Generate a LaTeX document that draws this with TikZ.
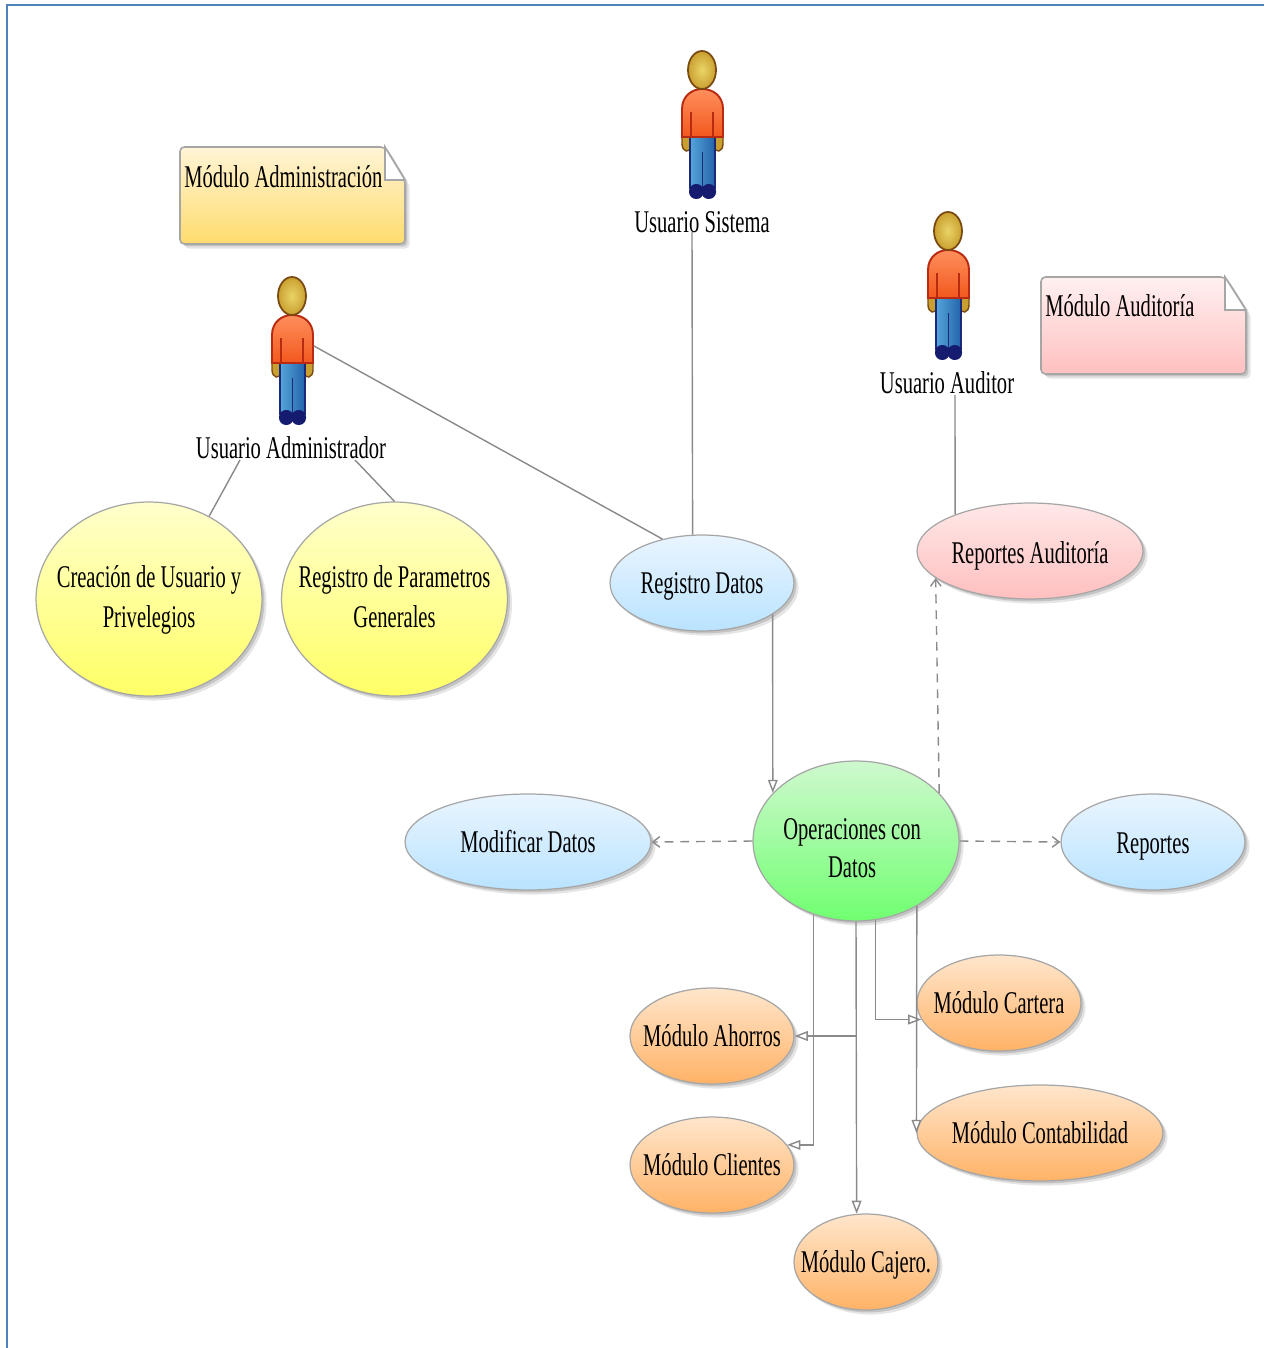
\documentclass[tikz,border=0pt]{standalone}
\usepackage{fontspec}
\setmainfont[FakeStretch=0.65]{Liberation Serif}
\usetikzlibrary{shapes.geometric,arrows.meta,shadows}
\definecolor{framecol}{HTML}{4F81BD}
\definecolor{linecol}{HTML}{8A8A8A}
\definecolor{edgecol}{HTML}{A6A6A6}
\definecolor{bluetop}{HTML}{EAF5FF}
\definecolor{bluebot}{HTML}{B9E3FF}
\definecolor{yeltop}{HTML}{FFFFCC}
\definecolor{yelbot}{HTML}{FFFF66}
\definecolor{pinktop}{HTML}{FFE8E8}
\definecolor{pinkbot}{HTML}{FFBFBF}
\definecolor{greentop}{HTML}{CFF8CF}
\definecolor{greenbot}{HTML}{70FF70}
\definecolor{ortop}{HTML}{FFE6CC}
\definecolor{orbot}{HTML}{FFB266}
\definecolor{notetopa}{HTML}{FFF4D6}
\definecolor{notebota}{HTML}{FFDC6E}
\definecolor{notetopb}{HTML}{FFF0F0}
\definecolor{notebotb}{HTML}{FFC0C0}
\definecolor{skinc}{HTML}{EAD468}
\definecolor{skino}{HTML}{C9A030}
\definecolor{skinl}{HTML}{7A4A12}
\definecolor{shirta}{HTML}{FF8F5C}
\definecolor{shirtb}{HTML}{F2581E}
\definecolor{shirtl}{HTML}{B82A12}
\definecolor{jeana}{HTML}{55A5DA}
\definecolor{jeanb}{HTML}{2463AA}
\definecolor{jeanl}{HTML}{1A2A78}
\definecolor{shoe}{HTML}{151C70}
\newcommand\ovaltext[2][-5.7pt]{\makebox[0pt]{\smash{\raisebox{#1}{\begin{tabular}{@{}c@{}}#2\end{tabular}}}}}
\tikzset{
  softshadow/.style={
    drop shadow={shadow xshift=1.4pt,shadow yshift=-1.4pt,opacity=.14,fill=black},
    drop shadow={shadow xshift=2.6pt,shadow yshift=-2.6pt,opacity=.10,fill=black}},
  txt/.style={font=\fontsize{18}{22.5}\selectfont,text=black,inner sep=0pt,align=center},
  oval/.style={txt,ellipse,draw=edgecol,line width=.7pt,softshadow,inner sep=0pt,anchor=center},
  yellowoval/.style={oval,top color=yeltop,bottom color=yelbot},
  blueoval/.style={oval,top color=bluetop,bottom color=bluebot},
  pinkoval/.style={oval,top color=pinktop,bottom color=pinkbot},
  greenoval/.style={oval,top color=greentop,bottom color=greenbot},
  orangeoval/.style={oval,top color=ortop,bottom color=orbot},
  link/.style={draw=linecol,line width=.8pt},
  flow/.style={link,-{Triangle[open,length=7.5pt,width=5.5pt]}},
  dashflow/.style={link,dash pattern=on 5pt off 4pt,-{Straight Barb[length=4pt,width=6pt]}},
  notebox/.style={draw=edgecol,line width=.9pt,rounded corners=2.5pt,softshadow},
  actor/.pic={
    \fill[draw=skinl,line width=.8pt,fill=skino]
      (-20,0) -- (-20,20) .. controls (-20,28) and (-12,30) .. (-11,22) -- (-11,0) -- cycle;
    \fill[draw=skinl,line width=.8pt,fill=skino]
      (21,0) -- (21,20) .. controls (21,28) and (13,30) .. (12,22) -- (12,0) -- cycle;
    \shade[draw=jeanl,line width=.9pt,left color=jeana,right color=jeanb]
      (-12,12) -- (-12,64) -- (13,64) -- (13,12) -- cycle;
    \draw[jeanl,line width=1.1pt] (.5,28) -- (.5,64);
    \fill[shoe,rounded corners=4pt] (-13,60) rectangle (1.5,75);
    \fill[shoe,rounded corners=4pt] (-.5,60) rectangle (14,75);
    \shade[draw=shirtl,line width=1.1pt,top color=shirta,bottom color=shirtb]
      (-20,13) -- (-20,-15) .. controls (-20,-28) and (-10,-35) .. (0,-35)
      .. controls (11,-35) and (21,-28) .. (21,-15) -- (21,13) -- cycle;
    \draw[shirtl,line width=.8pt] (-11,-12) -- (-11,13) (11,-12) -- (11,13);
    \shade[draw=skinl,line width=1pt,inner color=skinc,outer color=skino]
      (0,-54) ellipse [x radius=14,y radius=19];
  }
}
\begin{document}
\begin{tikzpicture}[x=.02cm,y=-.02cm]
\useasboundingbox (0,0) rectangle (1264,1348);
\fill[white] (0,0) rectangle (1264,1348);
\draw[framecol,line width=.8pt] (7,1348) -- (7,5) -- (1264,5);

% notes
\shade[notebox,top color=notetopa,bottom color=notebota]
  (180,147) -- (385,147) -- (405,180) -- (405,244) -- (180,244) -- cycle;
\fill[white,draw=edgecol,line width=.9pt] (385,147) -- (385,180) -- (405,180) -- cycle;
\node[txt,anchor=west] (noteadm) at (184,177) {Módulo Administración};

\shade[notebox,top color=notetopb,bottom color=notebotb]
  (1041,277) -- (1225,277) -- (1246,310) -- (1246,374) -- (1041,374) -- cycle;
\fill[white,draw=edgecol,line width=.9pt] (1225,277) -- (1225,310) -- (1246,310) -- cycle;
\node[txt,anchor=west] (noteaud) at (1045,306) {Módulo Auditoría};

% ovals
\node[yellowoval,minimum width=4.52cm,minimum height=3.88cm] (crea) at (149,599) {\ovaltext[-4.8pt]{Creación de Usuario y\\[.5pt]Privelegios}};
\node[yellowoval,minimum width=4.52cm,minimum height=3.88cm] (param) at (394.5,599) {\ovaltext[-4.8pt]{Registro de Parametros\\[.5pt]Generales}};
\node[blueoval,minimum width=3.68cm,minimum height=1.92cm] (regd) at (702,583) {\ovaltext{Registro Datos}};
\node[pinkoval,minimum width=4.52cm,minimum height=1.92cm] (repaud) at (1030,551) {\ovaltext[-6.8pt]{Reportes Auditoría}};
\node[greenoval,minimum width=4.12cm,minimum height=3.2cm] (oper) at (856,841) {\hspace{-4.5pt}\ovaltext[-9.6pt]{Operaciones con\\[-1pt]Datos}};
\node[blueoval,minimum width=4.92cm,minimum height=1.92cm] (modif) at (528,842) {\ovaltext{Modificar Datos}};
\node[blueoval,minimum width=3.68cm,minimum height=1.92cm] (repo) at (1153,842) {\ovaltext[-6.3pt]{Reportes}};
\node[orangeoval,minimum width=3.28cm,minimum height=1.92cm] (ahorros) at (712,1036) {\ovaltext{Módulo Ahorros}};
\node[orangeoval,minimum width=3.28cm,minimum height=1.92cm] (clientes) at (712,1165) {\ovaltext{Módulo Clientes}};
\node[orangeoval,minimum width=3.28cm,minimum height=1.92cm] (cartera) at (999,1003) {\ovaltext{Módulo Cartera}};
\node[orangeoval,minimum width=4.92cm,minimum height=1.92cm] (conta) at (1040,1133) {\ovaltext{Módulo Contabilidad}};
\node[orangeoval,minimum width=2.88cm,minimum height=1.92cm] (cajero) at (866,1262) {\ovaltext{Módulo Cajero.}};

% actors
\pic at (292,350) {actor};
\pic at (702,124) {actor};
\pic at (948,285) {actor};
\node[txt] (uadm) at (291,448) {Usuario Administrador};
\node[txt] (usis) at (702,222) {Usuario Sistema};
\node[txt] (uaud) at (947,383) {Usuario Auditor};

% free ends
\coordinate (admhand) at (314,346);
\coordinate (admleft) at (240,460);
\coordinate (admright) at (355,460);
\coordinate (sisfoot) at (692,232);
\coordinate (audfoot) at (955,395);
\coordinate (branch) at (856,1036);

% connectors
\draw[link] (admhand) -- (regd.132.4);
\draw[link] (admleft) -- (crea.54);
\draw[link] (admright) -- (param.north);
\draw[link] (sisfoot) -- (regd.101.8);
\draw[link] (audfoot) -- (repaud.154.4);
\draw[flow] (regd.336.8) -- (oper.150.3);
\draw[dashflow] (oper.30.6) -- (repaud.196.9);
\draw[dashflow] (oper.west) -- (modif.east);
\draw[dashflow] (oper.east) -- (repo.west);
\draw[flow] (oper.240.8) |- (clientes.15.3);
\draw[flow] (oper.south) -- (cajero.101.8);
\draw[flow] (branch) -- (ahorros.east);
\draw[flow] (oper.284.3) |- (cartera.192.3);
\draw[flow] (oper.313.4) -- (conta.west);
\end{tikzpicture}
\end{document}
